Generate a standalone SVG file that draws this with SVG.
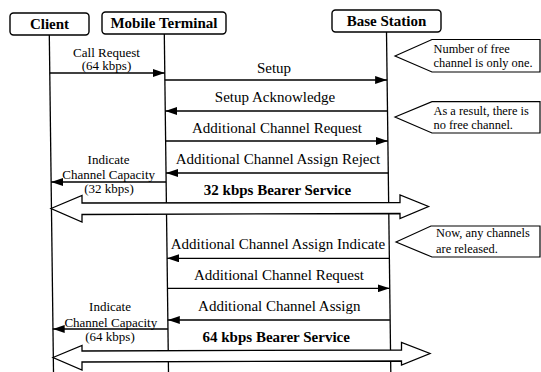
<svg xmlns="http://www.w3.org/2000/svg" width="541" height="372" viewBox="0 0 541 372">
<style>
.box{fill:#fff;stroke:#000;stroke-width:1.4}
.life{stroke:#000;stroke-width:1.3;fill:none}
.msg{stroke:#000;stroke-width:1.3;fill:none;marker-end:url(#ah)}
.big{fill:#fff;stroke:#000;stroke-width:1.3;stroke-linejoin:miter}
.note{fill:#fff;stroke:#000;stroke-width:1.2}
.hd{font-family:"Liberation Serif","Times New Roman",serif;font-weight:bold;font-size:15px;text-anchor:middle}
.lb{font-family:"Liberation Serif","Times New Roman",serif;font-size:15px;text-anchor:middle}
.bl{font-family:"Liberation Serif","Times New Roman",serif;font-size:15px;font-weight:bold;text-anchor:middle}
.sm{font-family:"Liberation Serif","Times New Roman",serif;font-size:13px;text-anchor:middle}
.nt{font-family:"Liberation Serif","Times New Roman",serif;font-size:12.4px}
</style>
<defs>
<marker id="ah" markerUnits="userSpaceOnUse" markerWidth="12" markerHeight="8" refX="12" refY="4" orient="auto">
<path d="M0,0 L12,4 L0,8 z" fill="#000"/>
</marker>
</defs>
<rect width="541" height="372" fill="#fff"/>
<g id="client">
<line class="life" x1="49.3" y1="35" x2="53.5" y2="372"/>
<rect class="box" x="10" y="13" width="79" height="22" rx="3.5"/>
<text class="hd" x="49.5" y="29">Client</text>
</g>
<g id="mobile-terminal">
<line class="life" x1="164.3" y1="34" x2="168.5" y2="372"/>
<rect class="box" x="102" y="12" width="124" height="22" rx="3.5"/>
<text class="hd" x="164" y="28">Mobile Terminal</text>
</g>
<g id="base-station">
<line class="life" x1="386.5" y1="32" x2="390.8" y2="372"/>
<rect class="box" x="332" y="10" width="109" height="22" rx="3.5"/>
<text class="hd" x="386.5" y="26">Base Station</text>
</g>
<g id="connectors">
<line class="msg" x1="49.8" y1="73" x2="164.8" y2="73"/>
<text class="sm" x="106.5" y="56.5">Call Request</text>
<text class="sm" x="106.5" y="70">(64 kbps)</text>
<line class="msg" x1="164.9" y1="80" x2="387.1" y2="80"/>
<text class="lb" x="274" y="72.5">Setup</text>
<line class="msg" x1="387.5" y1="111" x2="165.3" y2="111"/>
<text class="lb" x="275" y="102.3">Setup Acknowledge</text>
<line class="msg" x1="165.6" y1="141" x2="387.9" y2="141"/>
<text class="lb" x="277" y="133">Additional Channel Request</text>
<line class="msg" x1="388.3" y1="173" x2="166" y2="173"/>
<text class="lb" x="278" y="163.5">Additional Channel Assign Reject</text>
<line class="msg" x1="166.1" y1="182" x2="51.1" y2="182"/>
<text class="sm" x="108.5" y="163.5">Indicate</text>
<text class="sm" x="108.7" y="179.3">Channel Capacity</text>
<text class="sm" x="109" y="193.3">(32 kbps)</text>
<text class="bl" x="277.5" y="194.5">32 kbps Bearer Service</text>
<polygon class="big" points="51,208.5 82,195.5 82,203 400,202.5 400,195 428.5,206.5 400,218.5 400,213.5 82,214.5 82,222"/>
<line class="msg" x1="389.2" y1="258.3" x2="167.1" y2="258.3"/>
<text class="lb" x="278" y="248.5">Additional Channel Assign Indicate</text>
<line class="msg" x1="167.4" y1="288.3" x2="389.6" y2="288.3"/>
<text class="lb" x="279" y="280">Additional Channel Request</text>
<line class="msg" x1="389.9" y1="320" x2="167.8" y2="320"/>
<text class="lb" x="279.3" y="311">Additional Channel Assign</text>
<line class="msg" x1="167.9" y1="329" x2="52.7" y2="329"/>
<text class="sm" x="110" y="310.5">Indicate</text>
<text class="sm" x="110.8" y="326.5">Channel Capacity</text>
<text class="sm" x="110" y="341">(64 kbps)</text>
<text class="bl" x="276.2" y="341.7">64 kbps Bearer Service</text>
<polygon class="big" points="53,357.5 82,345.5 82,351 401.5,350 401.5,342.5 430,353.5 401.5,365 401.5,361 82,362 82,370"/>
</g>
<g id="note1">
<polygon class="note" points="395,56 432,39.5 540,39.5 540,72 432,72"/>
<text class="nt" x="433.5" y="53">Number of free</text>
<text class="nt" x="433.5" y="67">channel is only one.</text>
</g>
<g id="note2">
<polygon class="note" points="395,117 432,101.7 540,101.7 540,133 432,133"/>
<text class="nt" x="433.5" y="115">As a result, there is</text>
<text class="nt" x="433.5" y="129">no free channel.</text>
</g>
<g id="note3">
<polygon class="note" points="396,242 431,226 540,226 540,257 432,257"/>
<text class="nt" x="436" y="237">Now, any channels</text>
<text class="nt" x="436" y="252.5">are released.</text>
</g>
</svg>
